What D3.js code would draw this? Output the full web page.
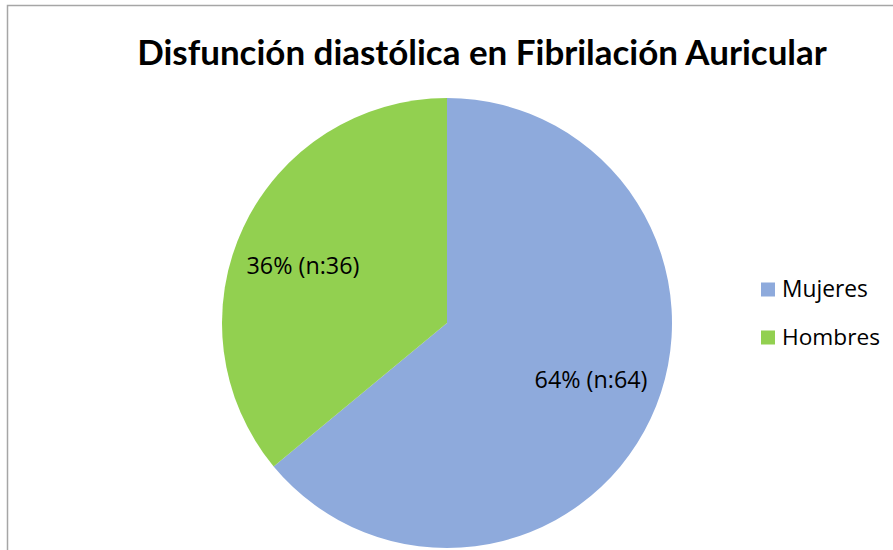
<!DOCTYPE html>
<html><head><meta charset="utf-8">
<script src="https://cdn.jsdelivr.net/npm/d3@7"></script>
<style>html,body{margin:0;padding:0;background:#fff;}svg{display:block;}</style>
</head><body>
<svg id="c" width="893" height="550"></svg>
<script>
const title = "Disfunción diastólica en Fibrilación Auricular";
const categories = ["Mujeres", "Hombres"];
const values = [64, 36];
const labels = ["64% (n:64)", "36% (n:36)"];
const colors = ["#8eaadc", "#92d050"];

const svg = d3.select("#c");
const font = "Lato, 'Open Sans', sans-serif";
const font2 = "'Open Sans', Lato, sans-serif";

function fit(sel, base, target) {
  const w = sel.node().getComputedTextLength();
  sel.attr("font-size", base * target / w);
}

// border
svg.append("path").attr("d", "M7.5,550 L7.5,5.5 L893,5.5")
  .attr("fill", "none").attr("stroke", "#a6a6a6").attr("stroke-width", 1.5);

// title
const t = svg.append("text").attr("x", 482).attr("y", 65)
  .attr("text-anchor", "middle").attr("font-family", font)
  .attr("font-weight", "bold").attr("font-size", 31).attr("fill", "#000").text(title);
fit(t, 31, 690);

const cx = 447, cy = 323, r = 225;
const pie = d3.pie().sort(null).value(d => d);
const arcs = pie(values);
const arc = d3.arc().innerRadius(0).outerRadius(r);
const labelArc = d3.arc().innerRadius(155).outerRadius(155);
const shift = -3.5 * Math.PI / 180;

const g = svg.append("g").attr("transform", `translate(${cx},${cy})`);
g.selectAll("path").data(arcs).join("path")
  .attr("d", arc).attr("fill", (d, i) => colors[i]);

g.selectAll("text").data(arcs).join("text")
  .attr("transform", d => `translate(${labelArc.centroid({startAngle: d.startAngle + shift, endAngle: d.endAngle + shift})})`)
  .attr("text-anchor", "middle").attr("dy", "0.35em")
  .attr("font-family", font2).attr("font-size", 18).attr("fill", "#000")
  .text((d, i) => labels[i])
  .each(function() { fit(d3.select(this), 18, 113); });

// legend
const lg = svg.append("g");
const legW = [86, 98];
categories.forEach((c, i) => {
  const y = 289.5 + i * 48;
  lg.append("rect").attr("x", 761).attr("y", y - 7).attr("width", 14).attr("height", 14).attr("fill", colors[i]);
  const tx = lg.append("text").attr("x", 782).attr("y", y).attr("dy", "0.35em")
    .attr("font-family", font2).attr("font-size", 19).attr("fill", "#000").text(c);
  fit(tx, 19, legW[i]);
});
</script>
</body></html>
